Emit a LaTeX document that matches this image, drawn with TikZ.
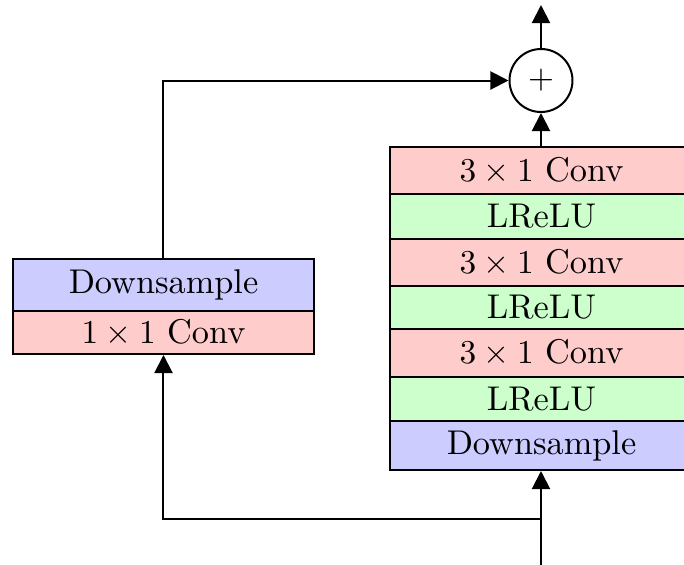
\documentclass[tikz,border=0pt]{standalone}
\usetikzlibrary{arrows.meta}
\definecolor{convc}{RGB}{255,204,204}
\definecolor{reluc}{RGB}{204,255,204}
\definecolor{downc}{RGB}{204,204,255}
\begin{document}
\begin{tikzpicture}[x=0.3pt,y=-0.3pt,
  font=\fontsize{10.3}{12}\selectfont,
  blk/.style={draw, line width=0.6pt, inner sep=0pt, minimum width=90.6pt},
  arr/.style={line width=0.6pt, -{Triangle[length=5.4pt,width=5.4pt]}},
  wire/.style={line width=0.6pt}]
\clip (0,0) rectangle (684,565);
\useasboundingbox (0,0) rectangle (684,565);

% main branch
\node[blk, fill=convc, minimum height=14.1pt] (c1) at (541.5,170.5) {$3\times1$ Conv};
\node[blk, fill=reluc, minimum height=13.5pt] (r1) at (541.5,216.5) {LReLU};
\node[blk, fill=convc, minimum height=14.1pt] (c2) at (541.5,262.5) {$3\times1$ Conv};
\node[blk, fill=reluc, minimum height=12.9pt] (r2) at (541.5,307.5) {LReLU};
\node[blk, fill=convc, minimum height=14.4pt] (c3) at (541.5,353) {$3\times1$ Conv};
\node[blk, fill=reluc, minimum height=13.2pt] (r3) at (541.5,399) {LReLU};
\node[blk, fill=downc, minimum height=14.7pt] (d1) at (541.5,445.5) {Downsample};

% skip branch
\node[blk, fill=downc, minimum height=15.6pt] (ld) at (163.5,285) {Downsample};
\node[blk, fill=convc, minimum height=12.9pt] (lc) at (163.5,332.5) {$1\times1$ Conv};

% sum
\node[circle, draw, line width=0.6pt, minimum size=18.9pt, inner sep=0pt] (plus) at (541,80.5) {$+$};

\coordinate (in) at (541,565);
\coordinate (br) at (541,518.5);
\coordinate (out) at (541,5);

\draw[arr] (in) -- (d1.south -| in);
\draw[arr] (br) -| (lc.south);
\draw[arr] (ld.north) |- (plus.west);
\draw[arr] (c1.north -| plus) -- (plus.south);
\draw[arr] (plus.north) -- (out);
\end{tikzpicture}
\end{document}
